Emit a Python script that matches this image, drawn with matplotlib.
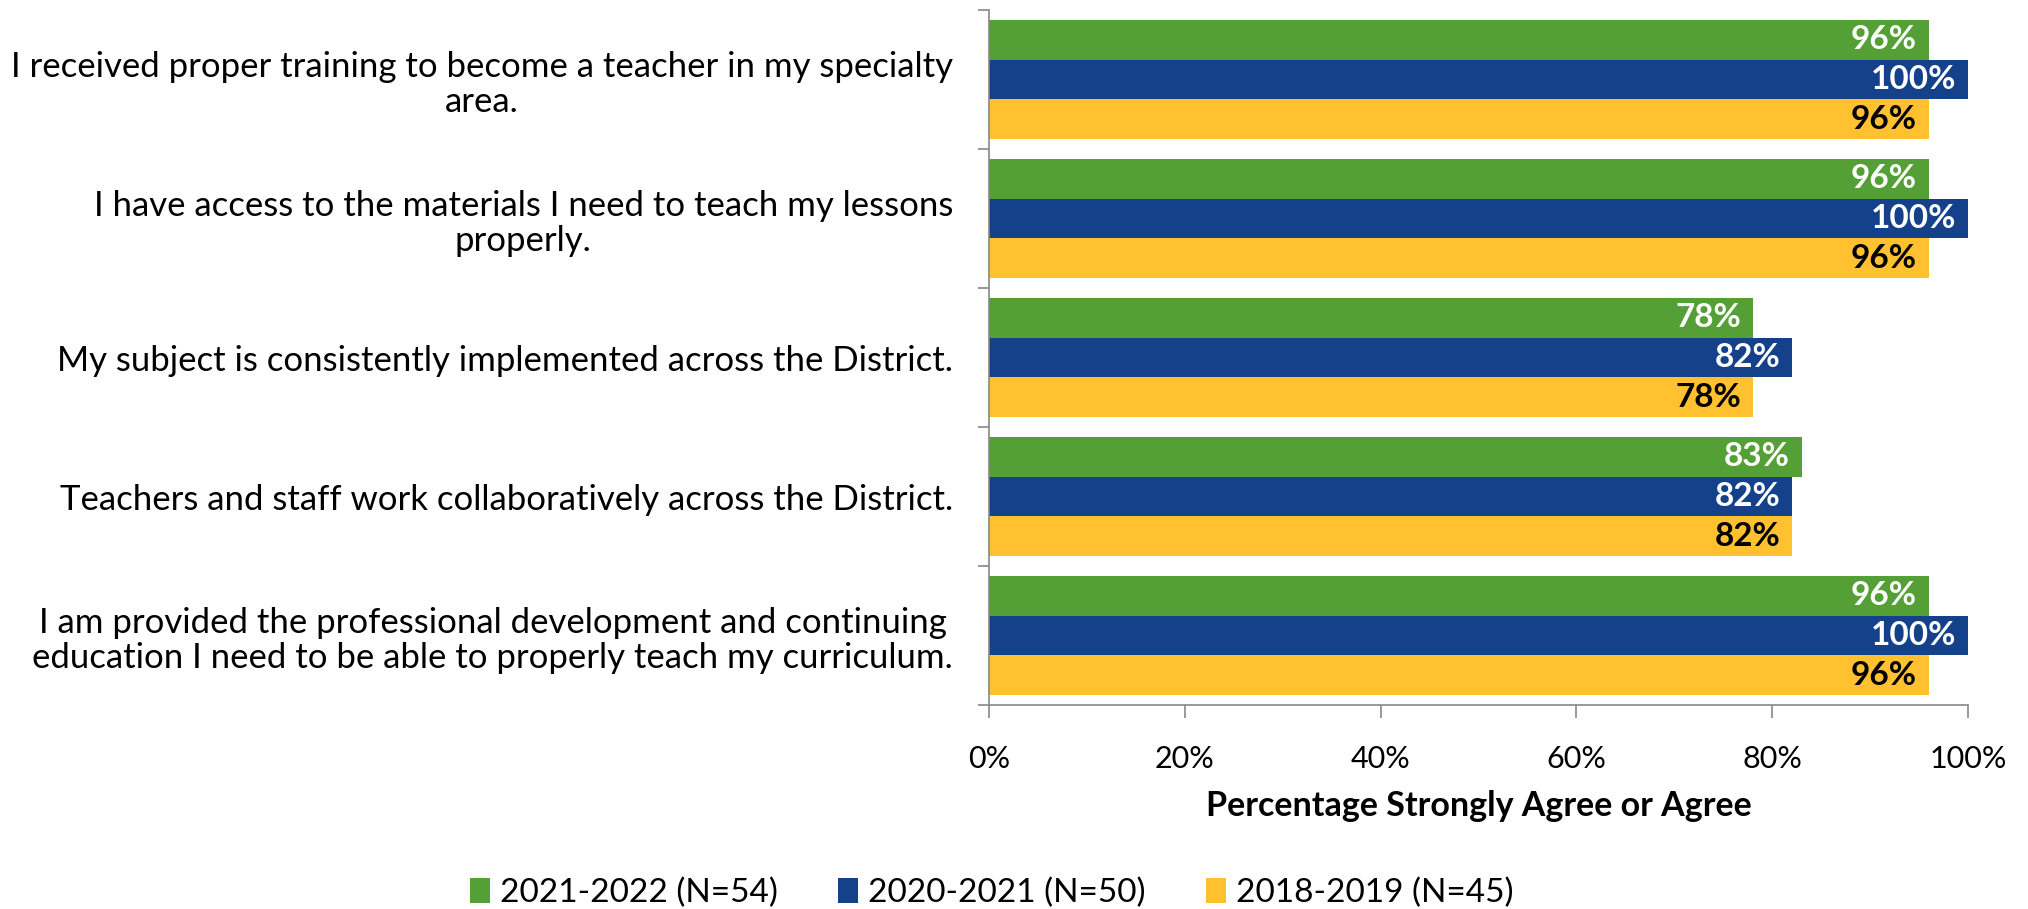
import matplotlib
import numpy as np
from matplotlib import pyplot as plt
from matplotlib.patches import Patch

matplotlib.use("Agg")
plt.rcParams['font.family'] = ['Lato', 'DejaVu Sans']

# Survey statements (top to bottom)
statements = [
    "I received proper training to become a teacher in my specialty\narea.",
    "I have access to the materials I need to teach my lessons\nproperly.",
    "My subject is consistently implemented across the District.",
    "Teachers and staff work collaboratively across the District.",
    "I am provided the professional development and continuing\neducation I need to be able to properly teach my curriculum.",
]
series_names = ["2021-2022 (N=54)", "2020-2021 (N=50)", "2018-2019 (N=45)"]
vals_2122 = [96, 96, 78, 83, 96]
vals_2021 = [100, 100, 82, 82, 100]
vals_1819 = [96, 96, 78, 82, 96]
colors = ["#55A036", "#144189", "#FFC12F"]
label_colors = ["white", "white", "black"]
xticks = [0, 20, 40, 60, 80, 100]

fig = plt.figure(figsize=(20.28, 9.09), dpi=100)
ax = fig.add_axes([0.4877, 0.2244, 0.4827, 0.7646])

n = len(statements)
pos = np.arange(n)
bw = 0.285
all_vals = [vals_2122, vals_2021, vals_1819]
for i, vals in enumerate(all_vals):
    y = pos + (i - 1) * bw
    bars = ax.barh(y, vals, height=bw, color=colors[i], edgecolor='none')
    for b, v in zip(bars, vals):
        ax.text(v - 1.2, b.get_y() + b.get_height() / 2, f"{v}%",
                ha='right', va='center', color=label_colors[i],
                fontsize=24, fontweight='bold')

ax.set_ylim(n - 0.5, -0.5)
ax.set_xlim(0, 100)
ax.set_yticks(pos)
ax.set_yticklabels(statements, fontsize=25, ha='right', multialignment='center',
                   linespacing=1.15)
ax.tick_params(axis='y', length=0, pad=26)
ax.set_yticks(np.arange(n + 1) - 0.5, minor=True)
ax.tick_params(axis='y', which='minor', length=8, color='#888888', width=1.2)

ax.set_xticks(xticks)
ax.set_xticklabels([f"{t}%" for t in xticks], fontsize=22)
ax.tick_params(axis='x', length=9, color='#888888', width=1.2, pad=20)
ax.set_xlabel("Percentage Strongly Agree or Agree", fontsize=24.5,
              fontweight='bold', labelpad=12)

for s in ['top', 'right']:
    ax.spines[s].set_visible(False)
for s in ['left', 'bottom']:
    ax.spines[s].set_color('#888888')
    ax.spines[s].set_linewidth(1.2)

handles = [Patch(facecolor=c, edgecolor='none') for c in colors]
fig.legend(handles, series_names, loc='center', bbox_to_anchor=(0.489, 0.018),
           ncol=3, frameon=False, fontsize=24, handlelength=0.6,
           handleheight=0.8, handletextpad=0.3, columnspacing=1.8)

fig.savefig("out.png", dpi=100)
